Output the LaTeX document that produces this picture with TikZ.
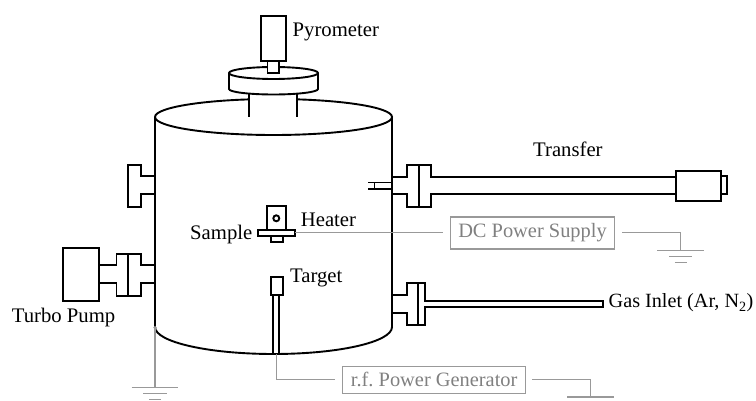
\documentclass[tikz,border=0pt]{standalone}
\usepackage{fontspec}
\setmainfont{Liberation Serif}
\usetikzlibrary{positioning}
\tikzstyle{part} = [draw=black,
                    line width=1.9pt,
                    line join=miter]
\tikzstyle{label} = [inner sep=0pt,
                    anchor=base west,
                    font=\fontsize{20.7}{22}\selectfont]
\tikzstyle{supply} = [rectangle,
                    draw=black!40,
                    line width=1.1pt,
                    text=black!50,
                    inner sep=0pt,
                    align=center,
                    font=\fontsize{20.4}{22}\selectfont]
\tikzstyle{wire} = [draw=black!40,
                    line width=1.1pt]
\tikzstyle{chamber} = [x=1pt,
                      y=-1pt]

\begin{document}
\begin{tikzpicture}[chamber]
    \useasboundingbox (0,0) rectangle (756,401);
    % vessel
    \draw[part] (155,117) arc[start angle=180, end angle=-180, x radius=118.5, y radius=18];
    \draw[part] (155,117) -- (155,327) arc[start angle=180, end angle=0, x radius=118.5, y radius=27] -- (392,117);
    % top port and pyrometer
    \fill[white] (249.3,90) rectangle (297,105);
    \draw[part] (249.3,90) -- (249.3,117);
    \draw[part] (297,90) -- (297,117);
    \draw[part, fill=white] (229,73) -- (229,89) arc[start angle=180, end angle=0, x radius=44.5, y radius=5.5] -- (318,73)
      arc[start angle=0, end angle=-180, x radius=44.5, y radius=6] -- cycle;
    \draw[part] (229,73) arc[start angle=180, end angle=0, x radius=44.5, y radius=6];
    \draw[part, fill=white] (261,16) rectangle (286,61);
    \draw[part, fill=white] (267.5,61) rectangle (279,73);
    % left ports
    \draw[part] (155,176) -- (140.7,176) -- (140.7,164.7) -- (128,164.7) -- (128,206.7) -- (140.7,206.7) -- (140.7,194) -- (155,194);
    \draw[part] (155,265.3) -- (140.7,265.3) -- (140.7,253.7) -- (116.5,253.7) -- (116.5,265.3) -- (99,265.3);
    \draw[part] (155,283.3) -- (140.7,283.3) -- (140.7,295.7) -- (116.5,295.7) -- (116.5,283.3) -- (99,283.3);
    \draw[part] (128,253.7) -- (128,295.7);
    \draw[part, fill=white] (62.7,247.7) rectangle (99,301.3);
    % right ports
    \draw[part] (368.3,182.5) -- (392,182.5);
    \draw[part] (368.3,188.7) -- (392,188.7);
    \draw[part] (374.5,182.5) -- (374.5,188.7);
    \draw[part] (392,176.7) -- (406.7,176.7) -- (406.7,164.7) -- (431,164.7) -- (431,176.7) -- (676,176.7);
    \draw[part] (392,194.3) -- (406.7,194.3) -- (406.7,206.7) -- (431,206.7) -- (431,194.3) -- (676,194.3);
    \draw[part] (418.7,164.7) -- (418.7,206.7);
    \draw[part, fill=white] (721.3,176.3) rectangle (727.3,194.3);
    \draw[part, fill=white] (676,170.7) rectangle (721.3,200.7);
    \draw[part] (392,294.7) -- (406.7,294.7) -- (406.7,283.3) -- (425.3,283.3) -- (425.3,301.3) -- (602.7,301.3) -- (602.7,307) -- (425.3,307) -- (425.3,325) -- (406.7,325) -- (406.7,313.3) -- (392,313.3);
    \draw[part] (418.3,283.3) -- (418.3,325);
    % sample holder
    \draw[part] (267,206) rectangle (285.7,230);
    \draw[part] (276.3,218.3) circle (3);
    \draw[part] (270.7,236) rectangle (282.7,241.7);
    \draw[part, fill=white] (258.3,230) rectangle (294.7,236);
    % target
    \draw[part] (273.3,295) -- (273.3,354);
    \draw[part] (279.3,295) -- (279.3,354);
    \draw[part] (270.7,277.3) rectangle (283,295);
    % labels
    \node (pyrometer) [label] at (292.5,36.5) {Pyrometer};
    \node (transfer) [label] at (533,157) {Transfer};
    \node (heater) [label] at (300.7,226) {Heater};
    \node (sample) [label] at (190,240) {Sample};
    \node (target) [label] at (290,282.7) {Target};
    \node (turbo) [label] at (11.7,322.7) {Turbo Pump};
    \node (gas) [label, font=\fontsize{20.2}{22}\selectfont] at (608.5,308) {Gas Inlet (Ar, N\textsubscript{2})};
    % supplies
    \node (dc) [supply, minimum width=163.6pt, minimum height=32pt] at (532.5,233) {DC Power Supply};
    \node (rf) [supply, minimum width=183pt, minimum height=27.3pt] at (434.2,379.7) {r.f.\ Power Generator};
    \coordinate (plate) at (294.7,232.7);
    \coordinate (base) at (276.5,354);
    \coordinate (wall) at (155,327.7);
    \coordinate (gnddc) at (680.7,250.7);
    \coordinate (gndrf) at (590.7,397);
    \coordinate (gndwall) at (155,387.3);
    % wiring
    \draw[wire, shorten >=7.5pt] (plate) -- (plate -| dc.west);
    \draw[wire, shorten <=7.5pt] (plate -| dc.east) -| (gnddc);
    \draw[wire, shorten >=7.5pt] (base) |- (rf.west);
    \draw[wire, shorten <=6pt] (rf.east) -| (gndrf);
    \draw[wire] (wall) -- (gndwall);
    \fill[black!40] (wall) circle (1.8);
    \foreach \g in {gnddc,gndrf,gndwall} {
      \draw[wire] ([xshift=-23.4pt]\g) -- ([xshift=23.4pt]\g);
      \draw[wire] ([xshift=-11.7pt,yshift=-6pt]\g) -- ([xshift=11.7pt,yshift=-6pt]\g);
      \draw[wire] ([xshift=-5.8pt,yshift=-12pt]\g) -- ([xshift=5.8pt,yshift=-12pt]\g);
    }
\end{tikzpicture}
\end{document}
